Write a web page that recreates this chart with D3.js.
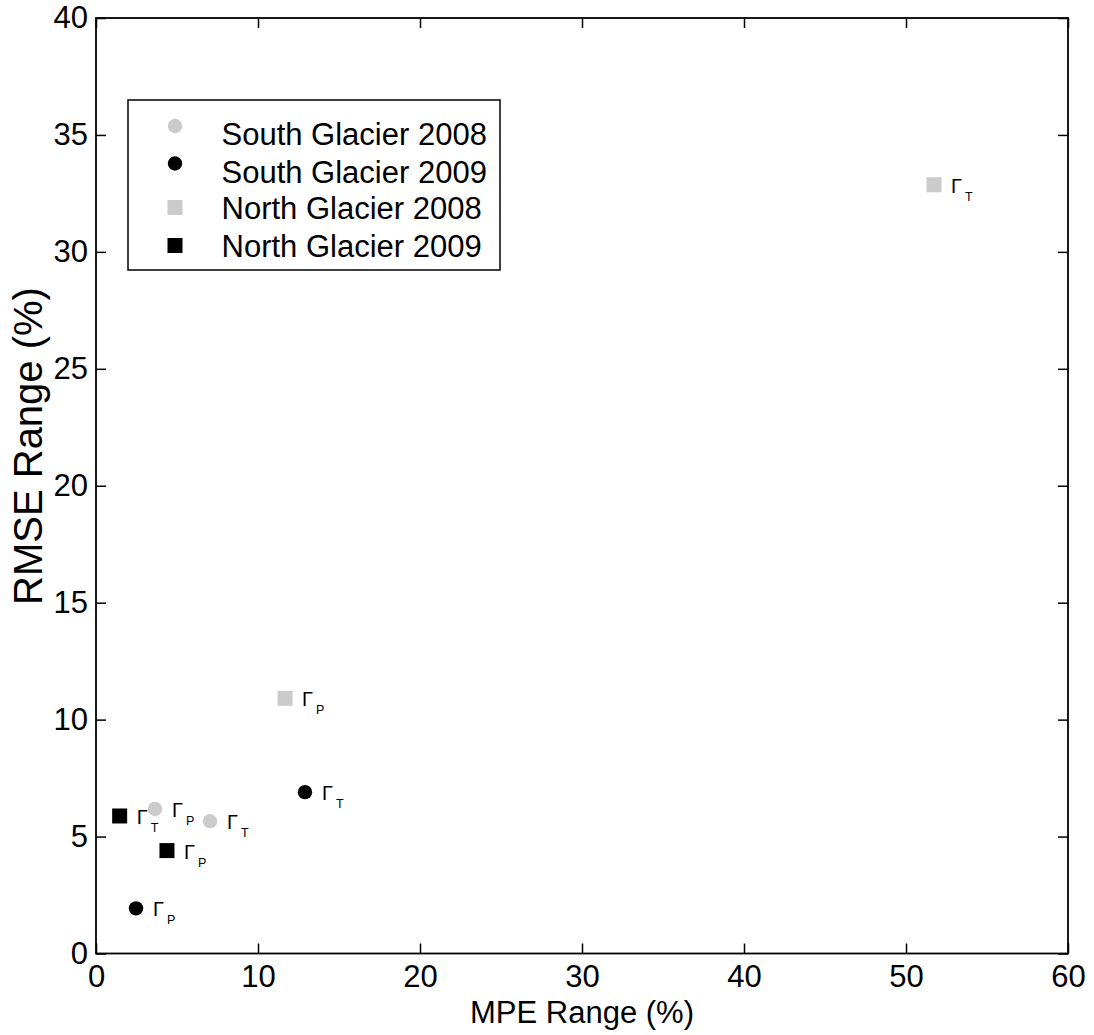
<!DOCTYPE html>
<html>
<head>
<meta charset="utf-8">
<script src="https://cdn.jsdelivr.net/npm/d3@7"></script>
<style>
  html, body { margin: 0; padding: 0; background: #fff; }
  svg { display: block; }
  text { font-family: "Liberation Sans", Arial, Helvetica, sans-serif; fill: #000; }
</style>
</head>
<body>
<svg id="chart" width="1094" height="1035"></svg>
<script>
// Series names as they appear in the legend
const seriesNames = ["South Glacier 2008", "South Glacier 2009", "North Glacier 2008", "North Glacier 2009"];
const seriesShapes = ["circle", "circle", "square", "square"];

// MPE range (%) and RMSE range (%) for each parameter (Γ_P, Γ_T)
const mpeSouth2008  = [3.64, 7.04];
const rmseSouth2008 = [6.18, 5.66];
const parSouth2008  = ["P", "T"];

const mpeSouth2009  = [2.47, 12.9];
const rmseSouth2009 = [1.93, 6.90];
const parSouth2009  = ["P", "T"];

const mpeNorth2008  = [11.67, 51.73];
const rmseNorth2008 = [10.91, 32.87];
const parNorth2008  = ["P", "T"];

const mpeNorth2009  = [4.38, 1.46];
const rmseNorth2009 = [4.40, 5.88];
const parNorth2009  = ["P", "T"];

// Axis ticks
const xTicks = [0, 10, 20, 30, 40, 50, 60];
const yTicks = [0, 5, 10, 15, 20, 25, 30, 35, 40];

const seriesColors = ["#cbcbcb", "#000000", "#cbcbcb", "#000000"];

const svg = d3.select("#chart");
const m = { left: 96, right: 1068, top: 18, bottom: 953.5 };

const x = d3.scaleLinear().domain([0, 60]).range([m.left, m.right]);
const y = d3.scaleLinear().domain([0, 40]).range([m.bottom, m.top]);

const tickLen = 10;
const fontSize = 31;

// Axes with inward ticks on all four sides
const axisBottom = d3.axisBottom(x).tickValues(xTicks).tickSizeInner(-tickLen).tickSizeOuter(0).tickPadding(11);
const axisTop = d3.axisTop(x).tickValues(xTicks).tickSizeInner(-tickLen).tickSizeOuter(0).tickFormat("");
const axisLeft = d3.axisLeft(y).tickValues(yTicks).tickSizeInner(-tickLen).tickSizeOuter(0).tickPadding(8);
const axisRight = d3.axisRight(y).tickValues(yTicks).tickSizeInner(-tickLen).tickSizeOuter(0).tickFormat("");

function styleAxis(g) {
  g.select(".domain").remove();
  g.selectAll(".tick line").attr("stroke", "#000").attr("stroke-width", 1.5);
  g.selectAll(".tick text")
    .style("font-family", '"Liberation Sans", Arial, Helvetica, sans-serif')
    .style("font-size", fontSize + "px")
    .attr("fill", "#000");
}

svg.append("g").attr("transform", `translate(0,${m.bottom})`).call(axisBottom).call(styleAxis);
svg.append("g").attr("transform", `translate(0,${m.top})`).call(axisTop).call(styleAxis);
svg.append("g").attr("transform", `translate(${m.left},0)`).call(axisLeft).call(styleAxis);
svg.append("g").attr("transform", `translate(${m.right},0)`).call(axisRight).call(styleAxis);

// Plot frame
svg.append("rect")
  .attr("x", m.left).attr("y", m.top)
  .attr("width", m.right - m.left).attr("height", m.bottom - m.top)
  .attr("fill", "none").attr("stroke", "#000").attr("stroke-width", 1.8);

// Axis titles
svg.append("text")
  .attr("x", (m.left + m.right) / 2).attr("y", 1023)
  .attr("text-anchor", "middle")
  .style("font-size", fontSize + "px")
  .text("MPE Range (%)");

svg.append("text")
  .attr("transform", `translate(42,446) rotate(-90)`)
  .attr("text-anchor", "middle")
  .style("font-size", "40px")
  .text("RMSE Range (%)");

// Assemble point records from the arrays above
const seriesData = [
  [mpeSouth2008, rmseSouth2008, parSouth2008],
  [mpeSouth2009, rmseSouth2009, parSouth2009],
  [mpeNorth2008, rmseNorth2008, parNorth2008],
  [mpeNorth2009, rmseNorth2009, parNorth2009]
];
const points = [];
seriesData.forEach(([xs, ys, ps], i) => {
  xs.forEach((v, j) => points.push({ s: i, mpe: v, rmse: ys[j], par: ps[j] }));
});

const markerSize = 15;
function drawMarker(g, shape, color, cx, cy) {
  if (shape === "circle") {
    g.append("circle").attr("cx", cx).attr("cy", cy).attr("r", markerSize / 2 - 0.3).attr("fill", color);
  } else {
    g.append("rect")
      .attr("x", cx - markerSize / 2).attr("y", cy - markerSize / 2)
      .attr("width", markerSize).attr("height", markerSize)
      .attr("fill", color);
  }
}

const marks = svg.append("g");
points.forEach(p => drawMarker(marks, seriesShapes[p.s], seriesColors[p.s], x(p.mpe), y(p.rmse)));

// Parameter labels Γ with subscript
const labels = svg.append("g");
points.forEach(p => {
  const px = x(p.mpe), py = y(p.rmse);
  labels.append("text")
    .attr("x", px + 17).attr("y", py + 8)
    .style("font-size", "20px")
    .text("Γ");
  labels.append("text")
    .attr("x", px + 31).attr("y", py + 16)
    .style("font-size", "12.5px")
    .text(p.par);
});

// Legend
const legend = svg.append("g");
legend.append("rect")
  .attr("x", 128).attr("y", 100).attr("width", 372).attr("height", 170)
  .attr("fill", "#fff").attr("stroke", "#000").attr("stroke-width", 1.5);

const legendBaselines = [145, 182.7, 219.3, 256.7];
const legendMarkerY = [126, 163.5, 207.5, 245.5];
seriesNames.forEach((name, i) => {
  drawMarker(legend, seriesShapes[i], seriesColors[i], 175, legendMarkerY[i]);
  legend.append("text")
    .attr("x", 221.5).attr("y", legendBaselines[i])
    .style("font-size", fontSize + "px")
    .text(name);
});
</script>
</body>
</html>
